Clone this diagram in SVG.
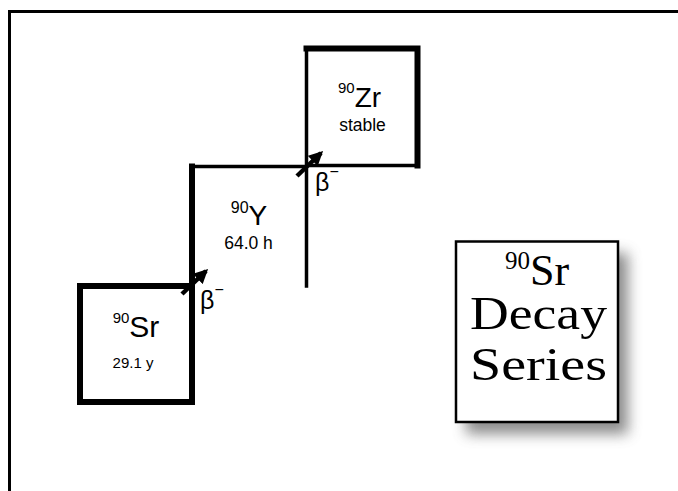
<svg xmlns="http://www.w3.org/2000/svg" width="678" height="491" viewBox="0 0 678 491">
<defs>
<style>
.thick{fill:none;stroke:#000;stroke-width:6;stroke-linecap:square}
.thin{fill:none;stroke:#000;stroke-width:3.5;stroke-linecap:square}
.sans{font-family:"Liberation Sans",Arial,sans-serif;fill:#000}
.serif{font-family:"Liberation Serif","Times New Roman",serif;fill:#000}
.arrow{stroke:#000;stroke-width:4.5;fill:none}
</style>
<marker id="ah" viewBox="0 0 10 10" refX="8" refY="5" markerWidth="3.2" markerHeight="3.2" orient="auto" markerUnits="strokeWidth">
<path d="M0,0 L10,5 L0,10 z" fill="#000"/>
</marker>
<filter id="blur" x="-20%" y="-20%" width="140%" height="140%">
<feGaussianBlur stdDeviation="7"/>
</filter>
</defs>
<rect width="678" height="491" fill="#fff"/>
<rect x="9.5" y="11.5" width="700" height="500" fill="none" stroke="#000" stroke-width="3"/>

<g id="node-sr90">
<rect class="thick" x="80" y="286" width="112" height="116"/>
<text class="sans" x="136" y="337" text-anchor="middle"><tspan font-size="15" dy="-14">90</tspan><tspan font-size="30" dy="14">Sr</tspan></text>
<text class="sans" x="133" y="368" font-size="15" text-anchor="middle">29.1 y</text>
</g>

<g id="node-y90">
<path class="thin" d="M192,166.5 H306.5 V286"/>
<path class="thick" d="M192,166.5 V286"/>
<text class="sans" x="249" y="225" text-anchor="middle"><tspan font-size="16" dy="-12">90</tspan><tspan font-size="28" dy="12">Y</tspan></text>
<text class="sans" x="248.5" y="249" font-size="17.5" text-anchor="middle">64.0 h</text>
</g>

<g id="node-zr90">
<path class="thin" d="M306.5,48.5 V165.5 H417.5"/>
<path class="thick" d="M306.5,48.5 H417.5 V165.5"/>
<text class="sans" x="359.5" y="107" text-anchor="middle"><tspan font-size="15" dy="-14">90</tspan><tspan font-size="28" dy="14">Zr</tspan></text>
<text class="sans" x="362.5" y="131" font-size="17.5" text-anchor="middle">stable</text>
</g>

<g id="connectors">
<line class="arrow" x1="182" y1="294" x2="206" y2="271" marker-end="url(#ah)"/>
<text class="sans" x="200" y="309" font-size="25">β<tspan font-size="16" dy="-14">−</tspan></text>
<line class="arrow" x1="297" y1="176" x2="321" y2="153" marker-end="url(#ah)"/>
<text class="sans" x="315" y="191" font-size="25">β<tspan font-size="16" dy="-14">−</tspan></text>
</g>

<g id="title">
<rect x="466" y="253" width="162" height="181" fill="#666" filter="url(#blur)" opacity="0.75"/>
<rect x="456" y="241.5" width="162" height="180.5" fill="#fff" stroke="#000" stroke-width="2.5"/>
<text class="serif" x="537" y="285" text-anchor="middle"><tspan font-size="25" dy="-16">90</tspan><tspan font-size="44" dy="16">Sr</tspan></text>
<text class="serif" x="470" y="329" font-size="46" textLength="137" lengthAdjust="spacingAndGlyphs">Decay</text>
<text class="serif" x="470" y="380" font-size="46" textLength="137" lengthAdjust="spacingAndGlyphs">Series</text>
</g>
</svg>
